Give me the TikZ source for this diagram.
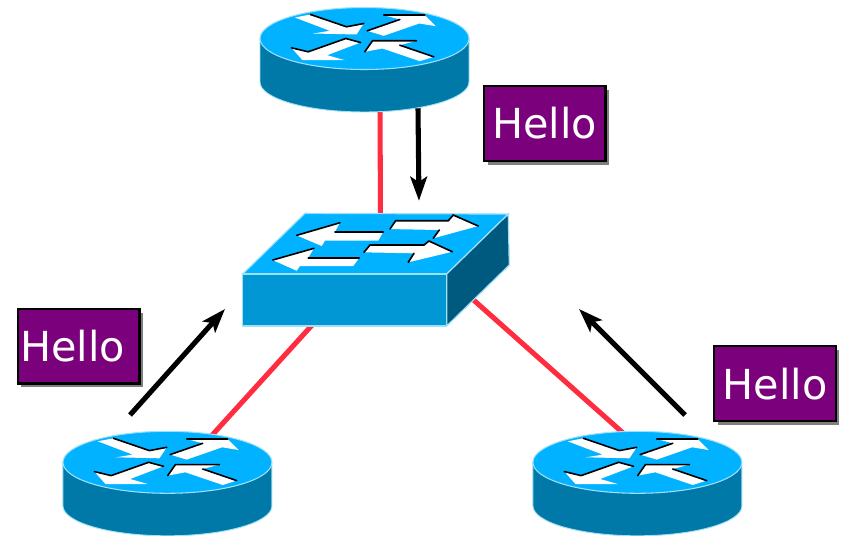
\documentclass[tikz,border=0pt]{standalone}
\usepackage{fontspec}
\setmainfont{DejaVu Sans}
\usetikzlibrary{arrows.meta,positioning,shadows,calc}

\definecolor{topblue}{HTML}{00B2FF}
\definecolor{routerside}{HTML}{0079A8}
\definecolor{switchfront}{HTML}{0097D4}
\definecolor{switchside}{HTML}{005A80}
\definecolor{edgeblue}{HTML}{9FE0F7}
\definecolor{linkred}{HTML}{FF2D3F}
\definecolor{hellopurple}{HTML}{7B007B}

\tikzset{
    whitearrow/.style = {fill = white, draw = none},
    blackedge/.style = {draw = black, line width = 1.2pt, line cap = round},
    routericon/.pic = {
        % body, then the four arrows on the lid
        \fill[routerside] (-104.5,-21) -- (-104.5,22.5) arc[start angle=180, end angle=0, x radius=104.5, y radius=30] -- (104.5,-21) -- cycle;
        \draw[edgeblue, line width=0.7pt] (-104.5,-21) -- (-104.5,22.5) arc[start angle=180, end angle=0, x radius=104.5, y radius=30] -- (104.5,-21);
        \draw[edgeblue, line width=0.8pt, fill=topblue] (0,-21) ellipse[x radius=104.5, y radius=31];
        \begin{scope}[yshift=16.5pt]
            \fill[whitearrow] (-69.7,-20) -- (-54,-23) -- (-18,-10.7) -- (-0.7,-14) -- (-8,-3) -- (-51.3,-4) -- (-34.7,-6.7) -- cycle;
            \draw[blackedge] (-54,-23) -- (-18,-10.7) -- (-0.7,-14);
            \fill[whitearrow] (2.7,-6.7) -- (35.3,-18) -- (19.3,-22.3) -- (60.3,-22.3) -- (71.3,-11.3) -- (54.7,-14) -- (19.3,-1.7) -- cycle;
            \draw[blackedge] (2.7,-6.7) -- (35.3,-18);
            \draw[blackedge] (19.3,-22.3) -- (60.3,-22.3);
            \fill[whitearrow] (-73,10.3) -- (-56.3,14.3) -- (-18.7,1) -- (-4,5) -- (-37.3,17.7) -- (-19.7,22.7) -- (-62,22.7) -- cycle;
            \draw[blackedge] (-73,10.3) -- (-56.3,14.3) -- (-18.7,1) -- (-4,5);
            \fill[whitearrow] (0.3,14.3) -- (8,3.3) -- (52,3.3) -- (35.3,7.7) -- (69.3,19.3) -- (55.3,23.7) -- (18,11) -- cycle;
            \draw[blackedge] (0.3,14.3) -- (8,3.3) -- (52,3.3);
            \draw[blackedge] (35.3,7.7) -- (69.3,19.3);
        \end{scope}
    },
    switchicon/.pic = {
        \draw[edgeblue, line width=0.9pt, fill=topblue] (-71,-56.2) -- (132.3,-55.5) -- (70.7,4.5) -- (-133.3,4.5) -- cycle;
        \draw[edgeblue, line width=0.9pt, fill=switchfront] (-133.3,4.5) rectangle (70.7,56.5);
        \draw[edgeblue, line width=0.9pt, fill=switchside] (70.7,4.5) -- (132.3,-55.5) -- (133.3,-4.5) -- (70.7,56.5) -- cycle;
        \fill[whitearrow] (-79.3,-34.2) -- (-36,-46.8) -- (-41,-37.8) -- (7.3,-37.8) -- (2.3,-28.8) -- (-51,-28.8) -- (-54.3,-23.5) -- cycle;
        \draw[blackedge] (-79.3,-34.2) -- (-36,-46.8);
        \draw[blackedge] (-41,-37.8) -- (7.3,-37.8);
        \fill[whitearrow] (-103.3,-9.5) -- (-62,-21.2) -- (-67.7,-11.8) -- (-16.7,-11.8) -- (-22.7,-3.5) -- (-76,-3.5) -- (-79.3,1.2) -- cycle;
        \draw[blackedge] (-103.3,-9.5) -- (-62,-21.2);
        \draw[blackedge] (-67.7,-11.8) -- (-16.7,-11.8);
        \fill[whitearrow] (14,-40.5) -- (19.7,-48.8) -- (72.3,-48.8) -- (77.3,-54.5) -- (102.3,-43.5) -- (57.3,-31.2) -- (63.3,-39.5) -- cycle;
        \draw[blackedge] (14,-40.5) -- (19.7,-48.8) -- (72.3,-48.8) -- (77.3,-54.5) -- (102.3,-43.5);
        \draw[blackedge] (57.3,-31.2) -- (63.3,-39.5);
        \fill[whitearrow] (-12,-17.2) -- (-6,-24.5) -- (48,-24.5) -- (53,-28.5) -- (76.3,-17.8) -- (32.3,-7.2) -- (38,-16.2) -- cycle;
        \draw[blackedge] (-12,-17.2) -- (-6,-24.5) -- (48,-24.5) -- (53,-28.5) -- (76.3,-17.8);
        \draw[blackedge] (32.3,-7.2) -- (38,-16.2);
    }
}

\begin{document}
\begin{tikzpicture}[
            x = 0.75pt, y = -0.75pt, % one unit is one pixel of the drawing
            > = {Stealth[length = 18pt, width = 12.5pt, inset = 4pt]}, % arrow head style
            routernode/.style = {minimum width = 157.5pt, minimum height = 78.75pt, inner sep = 0pt},
            switchnode/.style = {minimum width = 201pt, minimum height = 85.5pt, inner sep = 0pt},
            redlink/.style = {draw = linkred, line width = 3.8pt},
            hellomove/.style = {->, draw = black, line width = 3.8pt},
            hello/.style = {
                draw = black,
                line width = 1.6pt,
                fill = hellopurple,
                text = white,
                font = \fontsize{31}{36}\selectfont,
                minimum width = 91pt,
                minimum height = 56pt,
                inner sep = 0pt,
                drop shadow = {shadow xshift = 2.5pt, shadow yshift = -3pt, fill = black, opacity = 0.5}
            }
        ]

        \useasboundingbox (0,0) rectangle (841,535);

        \node[routernode] (rtop) at (364.5,59.5) {};
        \node[switchnode] (swtch) [below=75pt of rtop, xshift=8.6pt] {};
        \node[routernode] (rleft) [below=77.8pt of swtch, xshift=-156.4pt] {};
        \node[routernode] (rright) [below=77.8pt of swtch, xshift=196.1pt] {};

        % links go under the icons
        \draw[redlink] ($(rtop.south)+(15.5,-6)$) -- ($(swtch.north)+(4.5,2)$);
        \draw[redlink] ($(rleft.north)+(42.5,7)$) -- ($(swtch.south)+(-60,-6)$);
        \draw[redlink] ($(rright.north)+(-11.5,5)$) -- ($(swtch.south)+(94,-30)$);

        \pic at (rtop) {routericon};
        \pic at (rleft) {routericon};
        \pic at (rright) {routericon};
        \pic at (swtch) {switchicon};

        \node[hello] (hellotop) [right=10pt of rtop, yshift=-48pt] {Hello};
        \node[hello] (helloleft) [above=34.5pt of rleft, xshift=-66.5pt] {Hello\kern 9pt};
        \node[hello] (helloright) [above=6.4pt of rright, xshift=103.2pt] {Hello};

        \coordinate (toptip) at ($(swtch.north)+(43,-11.5)$);
        \coordinate (lefttail) at (130,415);
        \coordinate (lefttip) at (225,309);
        \coordinate (righttail) at (685,415);
        \coordinate (righttip) at (579,309);

        \draw[hellomove] ($(rtop.south)+(53.5,-4)$) -- (toptip);
        \draw[hellomove] (lefttail) -- (lefttip);
        \draw[hellomove] (righttail) -- (righttip);

    \end{tikzpicture}
\end{document}
